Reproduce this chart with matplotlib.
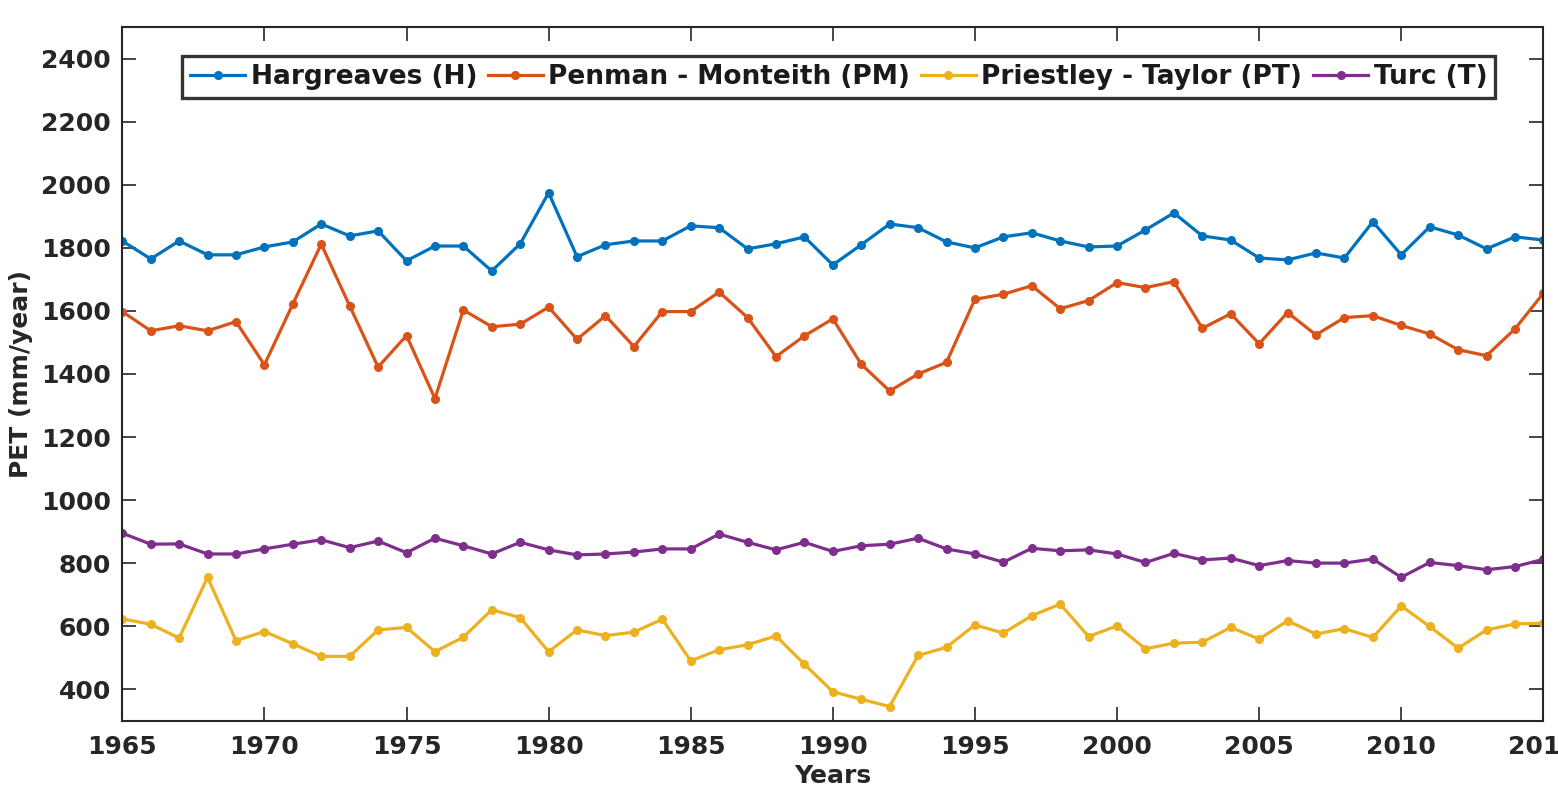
import matplotlib
import matplotlib.pyplot as plt
import numpy as np

matplotlib.use("Agg")

# annual potential evapotranspiration, 1965-2015
years = np.arange(1965, 2016)

hargreaves = [1822, 1765, 1822, 1778, 1778, 1803, 1819, 1876, 1838, 1854,
              1759, 1806, 1806, 1727, 1813, 1975, 1772, 1810, 1822, 1822,
              1870, 1864, 1797, 1813, 1835, 1746, 1810, 1876, 1864, 1819,
              1800, 1835, 1848, 1822, 1803, 1806, 1857, 1911, 1838, 1825,
              1768, 1762, 1784, 1768, 1883, 1778, 1867, 1841, 1797, 1835,
              1825]

penman_monteith = [1598, 1537, 1553, 1537, 1566, 1429, 1622, 1812, 1616, 1422,
                   1522, 1322, 1603, 1550, 1558, 1612, 1510, 1585, 1487, 1598,
                   1598, 1660, 1579, 1455, 1521, 1575, 1431, 1346, 1400, 1437,
                   1637, 1653, 1680, 1607, 1633, 1690, 1674, 1693, 1545, 1591,
                   1496, 1595, 1524, 1579, 1585, 1554, 1527, 1477, 1458, 1543,
                   1656]

priestley_taylor = [623, 606, 562, 755, 554, 583, 544, 504, 504, 588,
                    596, 519, 565, 652, 627, 519, 588, 570, 581, 622,
                    490, 525, 541, 569, 479, 392, 368, 345, 507, 533,
                    604, 578, 633, 670, 567, 601, 528, 546, 549, 596,
                    559, 617, 575, 592, 564, 664, 599, 530, 588, 607,
                    609]

turc = [895, 860, 861, 829, 829, 845, 860, 874, 849, 870,
        833, 879, 855, 829, 866, 842, 826, 829, 835, 845,
        845, 892, 866, 842, 866, 837, 855, 860, 879, 845,
        829, 803, 847, 839, 842, 829, 802, 831, 810, 816,
        792, 808, 800, 800, 813, 755, 802, 792, 779, 789,
        812]

series = [
    ("Hargreaves (H)", hargreaves, "#0072BD"),
    ("Penman - Monteith (PM)", penman_monteith, "#D95319"),
    ("Priestley - Taylor (PT)", priestley_taylor, "#EDB120"),
    ("Turc (T)", turc, "#7E2F8E"),
]

plt.rcParams["font.family"] = "DejaVu Sans"
plt.rcParams["font.weight"] = "bold"

fig = plt.figure(figsize=(15.58, 7.88), dpi=100)
ax = fig.add_axes([0.0785, 0.0854, 0.9121, 0.88])

for name, values, color in series:
    ax.plot(years, values, color=color, linewidth=2.3, marker="o",
            markersize=5.5, label=name)

ax.set_xlim(1965, 2015)
ax.set_ylim(300, 2500)
ax.set_xticks(np.arange(1965, 2016, 5))
ax.set_yticks(np.arange(400, 2401, 200))

ax.tick_params(axis="both", direction="in", length=10, width=1.2,
               color="#262626", labelsize=18, labelcolor="#262626",
               top=True, right=True)
ax.tick_params(axis="x", pad=10)
ax.tick_params(axis="y", pad=8)
for lbl in ax.get_xticklabels() + ax.get_yticklabels():
    lbl.set_fontweight("bold")
for spine in ax.spines.values():
    spine.set_color("#262626")
    spine.set_linewidth(1.5)

ax.set_xlabel("Years", fontsize=18, fontweight="bold", color="#262626",
              labelpad=4)
ax.set_ylabel("PET (mm/year)", fontsize=18, fontweight="bold",
              color="#262626", labelpad=6)

leg = ax.legend(loc="upper center", bbox_to_anchor=(0.504, 0.958), ncol=4,
                fontsize=19, frameon=True, fancybox=False, borderaxespad=0,
                handlelength=2.1, handletextpad=0.2, columnspacing=0.4,
                borderpad=0.3)
leg.get_frame().set_edgecolor("black")
leg.get_frame().set_linewidth(2.4)
for txt in leg.get_texts():
    txt.set_fontweight("bold")
    txt.set_color("#1a1a1a")

fig.savefig("out.png", dpi=100)
